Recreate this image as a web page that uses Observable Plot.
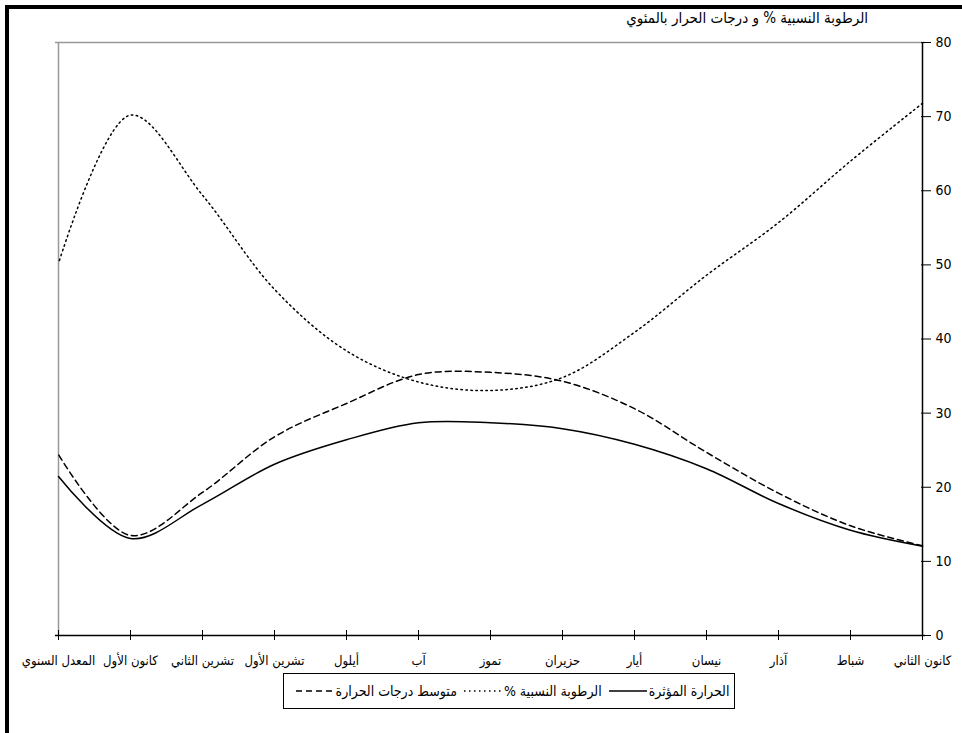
<!DOCTYPE html>
<html>
<head>
<meta charset="utf-8">
<script src="https://cdn.jsdelivr.net/npm/d3@7"></script>
<script src="https://cdn.jsdelivr.net/npm/@observablehq/plot@0.6"></script>
<style>
  html, body { margin: 0; padding: 0; background: #fff; }
  #wrap { position: relative; width: 962px; height: 733px; overflow: hidden; font-family: "Liberation Sans Narrow", "DejaVu Sans Condensed", "DejaVu Sans", sans-serif; }
  #frame { position: absolute; left: 5px; top: 5px; width: 960px; height: 740px; border-top: 4px solid #000; border-left: 4px solid #000; pointer-events: none; }
  #chart { position: absolute; left: 0; top: 0; }
  #title { position: absolute; top: 9px; right: 94px; direction: rtl; font-size: 15px; color: #000; white-space: nowrap; }
  #legend { position: absolute; left: 283px; top: 673px; width: 450px; height: 34px; border: 1px solid #000; display: flex; direction: rtl; align-items: center; justify-content: center; font-size: 14px; color: #000; white-space: nowrap; background: #fff; }
  #legend svg { margin: 0 1px 0 6px; }
</style>
</head>
<body>
<div id="wrap">
  <div id="chart"></div>
  <div id="title"></div>
  <div id="legend"></div>
  <div id="frame"></div>
</div>
<script>
// Categories (Arabic order, right-to-left on the chart: January at the right, annual mean at the left)
const months = ["كانون الثاني","شباط","آذار","نيسان","أيار","حزيران","تموز","آب","أيلول","تشرين الأول","تشرين الثاني","كانون الأول","المعدل السنوي"];
// Series values
const effectiveTemp = [12.05, 14.2, 17.8, 22.5, 25.8, 27.9, 28.7, 28.7, 26.4, 23.1, 17.7, 13.1, 21.45];
const humidity      = [71.8, 64.0, 55.7, 48.6, 40.9, 34.8, 33.05, 34.2, 38.4, 46.7, 59.4, 70.2, 50.2];
const meanTemp      = [12.1, 14.8, 19.2, 24.7, 30.6, 34.3, 35.5, 35.2, 31.3, 26.8, 19.3, 13.5, 24.4];
const seriesNames = ["الحرارة المؤثرة", "الرطوبة النسبية %", "متوسط درجات الحرارة"];
const yTicks = [0, 10, 20, 30, 40, 50, 60, 70, 80];
const titleText = "الرطوبة النسبية % و درجات الحرار بالمئوي";

const seriesValues = [effectiveTemp, humidity, meanTemp];
const dashes = [null, "1.5,3.5", "6,4"];

const rows = seriesValues.map((vals, s) => months.map((m, i) => ({m, v: vals[i], s: seriesNames[s]})));
const fontStack = '"Liberation Sans Narrow", "DejaVu Sans Condensed", "DejaVu Sans", sans-serif';

const chart = Plot.plot({
  width: 962,
  height: 733,
  marginTop: 42,
  marginBottom: 98,
  marginLeft: 55,
  marginRight: 37,
  style: {fontFamily: fontStack, color: "#000", background: "transparent", overflow: "visible"},
  x: {type: "point", domain: months.slice().reverse(), padding: 0},
  y: {domain: [0, 80]},
  marks: [
    Plot.ruleY([80], {stroke: "#999", strokeWidth: 1.5}),
    Plot.ruleX([months[months.length - 1]], {stroke: "#999", strokeWidth: 1.5}),
    ...rows.map((r, s) => Plot.line(r, {x: "m", y: "v", curve: "catmull-rom", stroke: "#000", strokeWidth: 1.5, strokeDasharray: dashes[s]})),
    Plot.ruleY([0], {stroke: "#000", strokeWidth: 1.5}),
    Plot.ruleX([months[0]], {stroke: "#000", strokeWidth: 1.5}),
    Plot.axisX({tickSize: 10, dy: -5, tickFormat: () => "", label: null, strokeWidth: 1}),
    Plot.axisX({tickSize: 0, tickPadding: 20, label: null, fontSize: 13}),
    Plot.axisY({anchor: "right", ticks: yTicks, tickSize: 10, dx: -5, tickFormat: () => "", label: null, strokeWidth: 1}),
    Plot.axisY({anchor: "right", ticks: yTicks, tickSize: 0, tickPadding: 10, label: null, fontSize: 14})
  ]
});
document.getElementById("chart").appendChild(chart);

document.getElementById("title").textContent = titleText;

const legend = document.getElementById("legend");
seriesNames.forEach((name, s) => {
  const span = document.createElement("span");
  span.textContent = name;
  legend.appendChild(span);
  const svg = d3.create("svg").attr("width", 40).attr("height", 10);
  svg.append("line").attr("x1", 1).attr("x2", 39).attr("y1", 5).attr("y2", 5)
    .attr("stroke", "#000").attr("stroke-width", 1.5)
    .attr("stroke-dasharray", dashes[s]);
  legend.appendChild(svg.node());
});
</script>
</body>
</html>
